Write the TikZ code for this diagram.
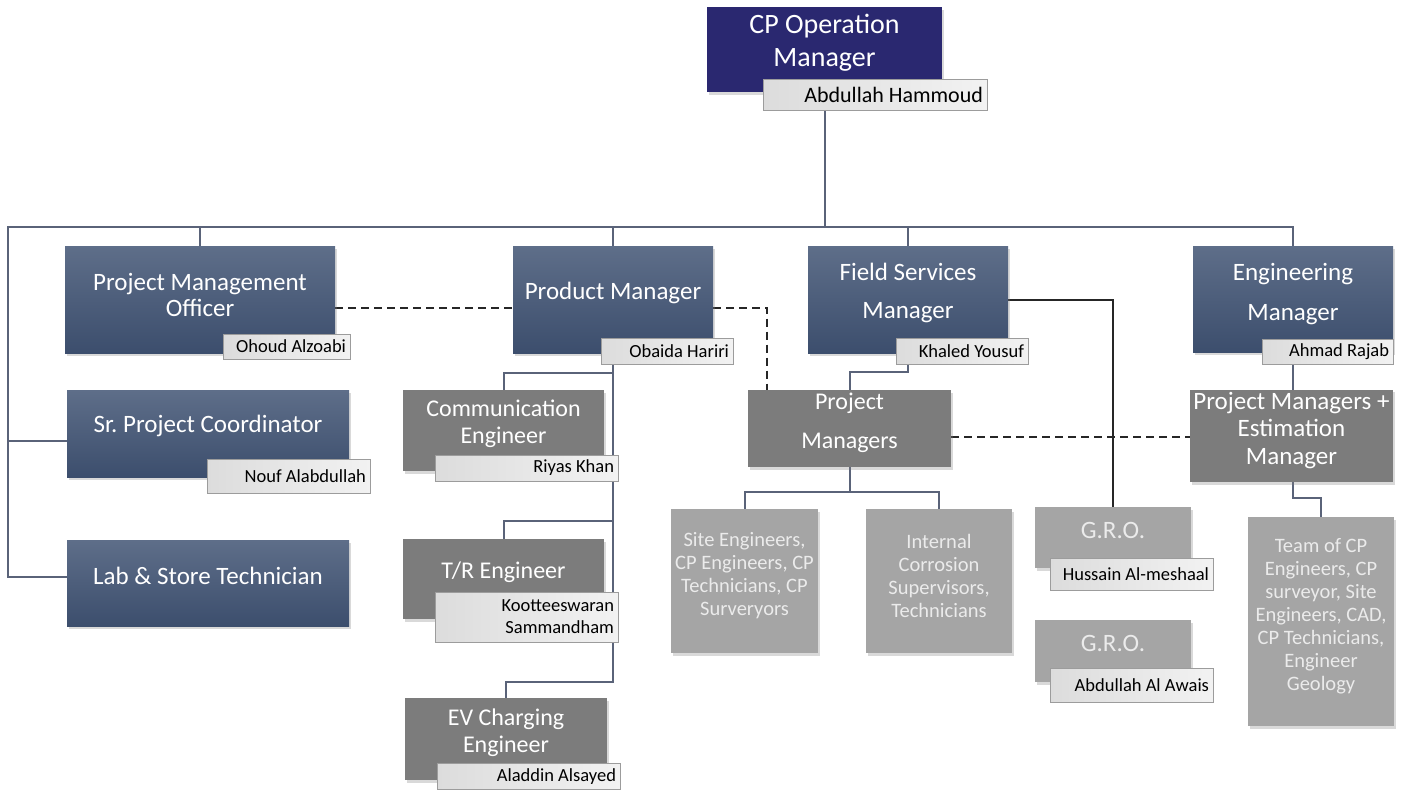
\documentclass[tikz,border=0pt]{standalone}
\usepackage{fontspec}
\setmainfont{Carlito}
\usetikzlibrary{shadows}

\definecolor{navybox}{HTML}{2A2870}
\definecolor{slatetop}{HTML}{5E6E89}
\definecolor{slatebot}{HTML}{3C4E6D}
\definecolor{midgray}{HTML}{7C7C7C}
\definecolor{lightgray}{HTML}{A5A5A5}
\definecolor{tagleft}{HTML}{DCDCDC}
\definecolor{tagright}{HTML}{F2F2F2}
\definecolor{tagline}{HTML}{9C9C9C}
\definecolor{linkcol}{HTML}{5A6379}

\pgfdeclarelayer{bg}
\pgfsetlayers{bg,main}

\tikzset{
  box/.style={inner sep=2pt, align=center, text=white,
    drop shadow={shadow xshift=1.5pt, shadow yshift=-2.5pt, opacity=0.3}},
  topbox/.style={box, fill=navybox, font=\fontsize{28}{33}\selectfont},
  headbox/.style={box, top color=slatetop, bottom color=slatebot,
    font=\fontsize{25}{26}\selectfont},
  staffbox/.style={box, fill=midgray, font=\fontsize{24}{27}\selectfont},
  teambox/.style={box, fill=lightgray, text=white!92!black,
    font=\fontsize{20.5}{23}\selectfont},
  nametag/.style={draw=tagline, line width=0.8pt, left color=tagleft,
    right color=tagright, text=black, align=flush right, inner xsep=4pt,
    inner ysep=0pt, font=\fontsize{18.5}{22}\selectfont, text width=#1},
  link/.style={draw=linkcol, line width=2pt},
  solidlink/.style={draw=black!85, line width=2pt},
  dotlink/.style={draw=black!85, line width=2pt, dash pattern=on 8pt off 5pt},
  liftup/.style={execute at end node={\rule[-#1]{0pt}{0pt}}}
}

\begin{document}
\begin{tikzpicture}[x=1pt, y=-1pt]
  \useasboundingbox (0,0) rectangle (1405,790);

  % top
  \node[topbox, minimum width=235pt, minimum height=85pt, liftup=17.5pt] (cp) at (824.5,49.5) {CP Operation\\Manager};
  \node[nametag=216pt, minimum height=31pt, font=\fontsize{22}{26}\selectfont] (cpTag) at (875,94.5) {Abdullah Hammoud};

  % first row
  \node[headbox, minimum width=270pt, minimum height=107pt, liftup=9pt] (pmo) at (200,299.5) {Project Management\\Officer};
  \node[nametag=119pt, minimum height=25pt] (pmoTag) at (286.5,346.5) {Ohoud Alzoabi};
  \node[headbox, minimum width=200pt, minimum height=107pt, liftup=16.5pt] (pm) at (613,299.5) {Product Manager};
  \node[nametag=124pt, minimum height=26pt] (pmTag) at (667,351) {Obaida Hariri};
  \node[headbox, minimum width=200pt, minimum height=107pt, liftup=16.5pt, font=\fontsize{25}{38}\selectfont] (fs) at (908,299.5) {Field Services\\Manager};
  \node[nametag=124pt, minimum height=26pt] (fsTag) at (962,351) {Khaled Yousuf};
  \node[headbox, minimum width=200pt, minimum height=106pt, liftup=13.5pt, font=\fontsize{25}{40}\selectfont] (eng) at (1293,299) {Engineering\\Manager};
  \node[nametag=123pt, minimum height=25pt] (engTag) at (1327.5,351.5) {Ahmad Rajab};

  % left column
  \node[headbox, minimum width=282pt, minimum height=87pt, liftup=20pt] (spc) at (208,433.5) {Sr.\ Project Coordinator};
  \node[nametag=155pt, minimum height=34pt] (spcTag) at (288.5,476) {Nouf Alabdullah};
  \node[headbox, minimum width=282pt, minimum height=86pt, liftup=14pt] (lab) at (208,583) {Lab \& Store Technician};

  % product team
  \node[staffbox, minimum width=201pt, minimum height=81pt, liftup=17pt] (comm) at (503.5,430.5) {Communication\\Engineer};
  \node[nametag=175pt, minimum height=26pt] (commTag) at (526.5,468) {Riyas Khan};
  \node[staffbox, minimum width=201pt, minimum height=80pt, liftup=17pt] (tr) at (503.5,579) {T/R Engineer};
  \node[nametag=175pt, minimum height=50pt] (trTag) at (526.5,617) {Kootteeswaran\\Sammandham};
  \node[staffbox, minimum width=202pt, minimum height=82pt, liftup=16pt] (ev) at (506,739) {EV Charging\\Engineer};
  \node[nametag=175pt, minimum height=26pt] (evTag) at (528.5,776.5) {Aladdin Alsayed};

  % field services
  \node[staffbox, minimum width=203pt, minimum height=77pt, liftup=15pt, font=\fontsize{24}{39}\selectfont] (pmgr) at (849.5,428.5) {Project\\Managers};
  \node[teambox, minimum width=147pt, minimum height=144pt, liftup=14pt] (site) at (744.5,581) {Site Engineers,\\CP Engineers, CP\\Technicians, CP\\Surveryors};
  \node[teambox, minimum width=146pt, minimum height=144pt, liftup=10pt] (corr) at (939,581) {Internal\\Corrosion\\Supervisors,\\Technicians};
  \node[teambox, minimum width=156pt, minimum height=61pt, liftup=15pt, font=\fontsize{25}{28}\selectfont] (gro1) at (1113,537.5) {G.R.O.};
  \node[nametag=155pt, minimum height=32pt] (gro1Tag) at (1131.5,574) {Hussain Al-meshaal};
  \node[teambox, minimum width=156pt, minimum height=62pt, liftup=15pt, font=\fontsize{25}{28}\selectfont] (gro2) at (1113,651) {G.R.O.};
  \node[nametag=155pt, minimum height=34pt] (gro2Tag) at (1131.5,685) {Abdullah Al Awais};

  % engineering
  \node[staffbox, minimum width=203pt, minimum height=92pt, liftup=16pt, font=\fontsize{25}{27.5}\selectfont] (est) at (1291.5,436) {Project Managers +\\Estimation\\Manager};
  \node[teambox, minimum width=146pt, minimum height=209pt, liftup=15pt] (team) at (1321,621.5) {Team of CP\\Engineers, CP\\surveyor, Site\\Engineers, CAD,\\CP Technicians,\\Engineer\\Geology};

  \coordinate (bus) at (8,227);

  \begin{pgfonlayer}{bg}
    \draw[link] (cp.center |- cpTag.south) -- (cp.center |- bus);
    \draw[link] ([yshift=6pt]lab.west) -| (bus) -| (eng.north);
    \draw[link] ([yshift=-7pt]spc.west) -- ([yshift=-7pt]spc.west -| bus);
    \draw[link] (pmo.north) -- (pmo.north |- bus);
    \draw[link] (pm.north) -- (pm.north |- bus);
    \draw[link] (fs.north) -- (fs.north |- bus);

    \coordinate (spine) at (pm.center |- pmTag.south);
    \draw[link] (comm.north) -- ++(0,-17) -| (spine);
    \draw[link] (tr.north) -- ++(0,-18) -| (spine);
    \draw[link] (ev.north) -- ++(0,-16) -| (spine);

    \draw[link] (fs.center |- fsTag.south) -- ++(0,8) -| (pmgr.north);
    \draw[link] (pmgr.south) -- ++(0,25) -| (site.north);
    \draw[link] (pmgr.south) -- ++(0,25) -| (corr.north);

    \draw[link] (eng.center |- engTag.south) -- (eng.center |- est.north);
    \draw[link] (est.south -| eng.center) -- ++(0,16) -| (team.north);

    \draw[solidlink] (fs.east) -| (gro1.north);

    \draw[dotlink] ([yshift=-8pt]pmo.east) -- ([yshift=-8pt]pmo.east -| pm.west);
    \draw[dotlink] ([yshift=-8pt]pm.east) -| ([xshift=-82.5pt]pmgr.north);
    \draw[dotlink] ([yshift=-8pt]pmgr.east) -- ([yshift=-8pt]pmgr.east -| est.west);
  \end{pgfonlayer}
\end{tikzpicture}
\end{document}
